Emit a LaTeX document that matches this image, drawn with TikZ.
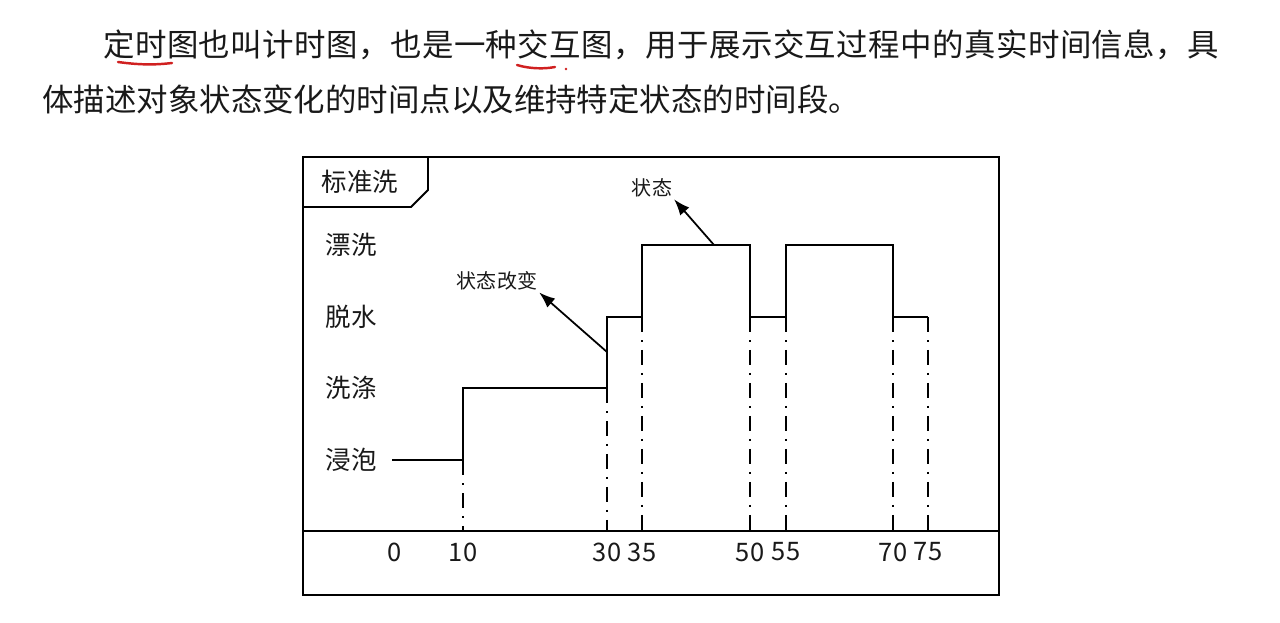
\documentclass[tikz,border=0pt]{standalone}
\usepackage{fontspec}
\setmainfont{Noto Sans CJK SC}
\newfontfamily\widecjk[LetterSpace=1.4]{Noto Sans CJK SC}
\usetikzlibrary{arrows.meta}
\definecolor{inkred}{RGB}{208,32,32}
\definecolor{ink}{RGB}{25,25,25}

\tikzset{
    para/.style={anchor=west, inner sep=0pt, text=ink, font=\fontsize{17.9pt}{20pt}\selectfont},
    statelabel/.style={inner sep=0pt, text=ink, font=\fontsize{14.5pt}{16pt}\selectfont},
    timelabel/.style={inner sep=0pt, text=ink, font=\fontsize{14.5pt}{16pt}\selectfont},
    note/.style={inner sep=1pt, text=ink, font=\fontsize{11.4pt}{13pt}\selectfont},
    frame/.style={line width=1.1pt},
    wave/.style={line width=0.9pt},
    guide/.style={line width=0.8pt, dash pattern=on 0.3cm off 0.16cm on 0.04cm off 0.16cm},
    pointer/.style={-{Latex[length=0.32cm, width=0.24cm]}, line width=1pt},
}

\begin{document}
\begin{tikzpicture}[x=0.02cm, y=-0.02cm]
            \useasboundingbox (0, 0) rectangle (1280, 622);

            \node [para] (line1) at (103, 45) {\widecjk 定时图也叫计时图，也是一种交互图，用于展示交互过程中的真实时间信息，具};
            \node [para] (line2) at (42, 100) {体描述对象状态变化的时间点以及维持特定状态的时间段。};
            \draw [inkred, line width=1.4pt, line cap=round] (118, 62) .. controls (140, 65) and (155, 65) .. (172, 63);
            \draw [inkred, line width=1.4pt, line cap=round] (517, 65) .. controls (530, 69) and (545, 69) .. (555, 67);
            \fill [inkred] (566, 69) circle (1.3);

            \draw [frame] (303, 157) rectangle (999, 595);
            \draw [frame] (303, 531) -- (999, 531);
            \draw [frame] (303, 207) -- (411, 207) -- (428, 190) -- (428, 157);
            \node [statelabel] (wash) at (360, 182) {标准洗};

            \node [statelabel] (rinse) at (351, 245) {漂洗};
            \node [statelabel] (spin) at (351, 317) {脱水};
            \node [statelabel] (scrub) at (351, 388) {洗涤};
            \node [statelabel] (soak) at (351, 460) {浸泡};

            \draw [wave] (392, 460) -- (463, 460) -- (463, 388) -- (607, 388) -- (607, 317)
                -- (642, 317) -- (642, 245) -- (750, 245) -- (750, 317) -- (786, 317)
                -- (786, 245) -- (893, 245) -- (893, 317) -- (928, 317);

            \draw [guide] (463, 460) -- (463, 531);
            \draw [guide] (607, 388) -- (607, 531);
            \foreach \t in {642, 750, 786, 893, 928}
                \draw [guide] (\t, 317) -- (\t, 531);

            \node [timelabel] (t0) at (395, 552) {0};
            \node [timelabel] (t10) at (463, 552) {10};
            \node [timelabel] (t30) at (607, 552) {30};
            \node [timelabel] (t35) at (642, 552) {35};
            \node [timelabel] (t50) at (750, 552) {50};
            \node [timelabel] (t55) at (786, 552) {55};
            \node [timelabel] (t70) at (893, 552) {70};
            \node [timelabel] (t75) at (928, 552) {75};

            \node [note] (change) at (497, 281) {状态改变};
            \node [note] (state) at (652, 188) {状态};
            \coordinate (changept) at (607, 352);
            \coordinate (statept) at (714, 245);

            \draw [pointer] (changept) -- (change.south east);
            \draw [pointer] (statept) -- (state.south east);
        \end{tikzpicture}
\end{document}
